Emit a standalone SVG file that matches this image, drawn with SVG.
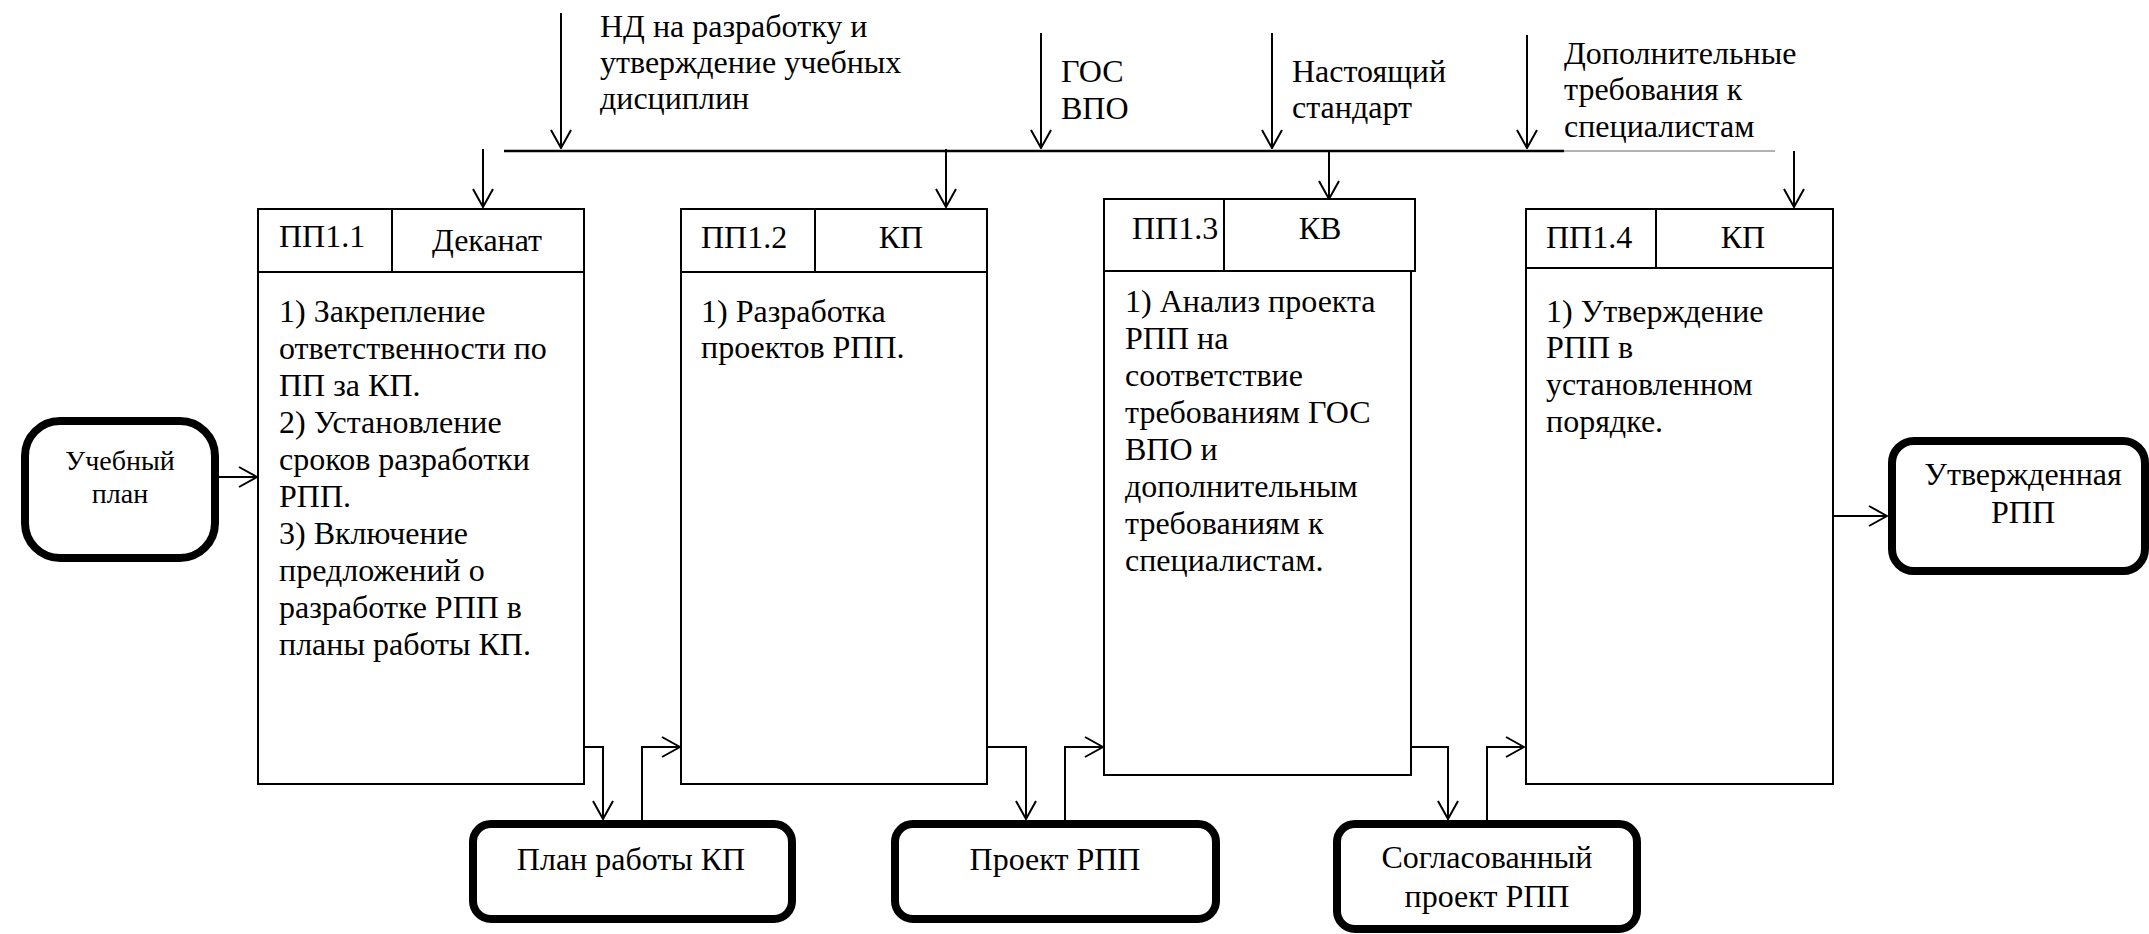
<svg xmlns="http://www.w3.org/2000/svg" width="2149" height="934" viewBox="0 0 2149 934">
<defs>
<marker id="arr" markerUnits="userSpaceOnUse" viewBox="0 0 20 22" markerWidth="20" markerHeight="22" refX="19" refY="11" orient="auto">
<path d="M1,1 L19,11 L1,21" fill="none" stroke="#000" stroke-width="2"/>
</marker>
<style>
svg text, text, tspan { font-family: "Liberation Serif", serif !important; }
</style>
</defs>
<rect width="2149" height="934" fill="#fff"/>

<g id="connectors" fill="none" stroke="#000" stroke-width="2">
<line x1="504" y1="151" x2="1564" y2="151" stroke-width="2.5"/>
<line x1="1564" y1="151" x2="1775" y2="151" stroke="#999" stroke-width="1.5"/>
<g marker-end="url(#arr)">
<line x1="561" y1="13" x2="561" y2="148"/>
<line x1="1041" y1="33" x2="1041" y2="148"/>
<line x1="1272" y1="33" x2="1272" y2="148"/>
<line x1="1527" y1="35" x2="1527" y2="148"/>
<line x1="483" y1="149" x2="483" y2="207"/>
<line x1="946" y1="149" x2="946" y2="207"/>
<line x1="1329" y1="151" x2="1329" y2="199"/>
<line x1="1794" y1="151" x2="1794" y2="207"/>
<line x1="219" y1="477" x2="257" y2="477"/>
<line x1="1833" y1="516" x2="1887" y2="516"/>
<polyline points="584,747 603,747 603,819"/>
<polyline points="642,820 642,747 680,747"/>
<polyline points="988,747 1026,747 1026,819"/>
<polyline points="1065,820 1065,747 1103,747"/>
<polyline points="1411,747 1448,747 1448,819"/>
<polyline points="1487,820 1487,747 1524,747"/>
</g>
</g>

<g id="label-nd" font-size="32">
<text style="font-family:'Liberation Serif',serif !important" x="600" y="37">НД на разработку и</text>
<text style="font-family:'Liberation Serif',serif !important" x="600" y="73">утверждение учебных</text>
<text style="font-family:'Liberation Serif',serif !important" x="600" y="109">дисциплин</text>
</g>
<g id="label-gos" font-size="32">
<text style="font-family:'Liberation Serif',serif !important" x="1061" y="82">ГОС</text>
<text style="font-family:'Liberation Serif',serif !important" x="1061" y="119">ВПО</text>
</g>
<g id="label-std" font-size="32">
<text style="font-family:'Liberation Serif',serif !important" x="1292" y="82">Настоящий</text>
<text style="font-family:'Liberation Serif',serif !important" x="1292" y="118">стандарт</text>
</g>
<g id="label-dop" font-size="32">
<text style="font-family:'Liberation Serif',serif !important" x="1564" y="64">Дополнительные</text>
<text style="font-family:'Liberation Serif',serif !important" x="1564" y="100">требования к</text>
<text style="font-family:'Liberation Serif',serif !important" x="1564" y="137">специалистам</text>
</g>

<g id="pp11" font-size="32">
<g fill="#fff" stroke="#000" stroke-width="2">
<rect x="258" y="209" width="326" height="575"/>
<line x1="258" y1="272" x2="584" y2="272"/>
<line x1="392" y1="209" x2="392" y2="272"/>
</g>
<text style="font-family:'Liberation Serif',serif !important" x="279" y="247">ПП1.1</text>
<text style="font-family:'Liberation Serif',serif !important" text-anchor="middle" x="487" y="251">Деканат</text>
<text style="font-family:'Liberation Serif',serif !important" x="279" y="322">1) Закрепление</text>
<text style="font-family:'Liberation Serif',serif !important" x="279" y="359">ответственности по</text>
<text style="font-family:'Liberation Serif',serif !important" x="279" y="396">ПП за КП.</text>
<text style="font-family:'Liberation Serif',serif !important" x="279" y="433">2) Установление</text>
<text style="font-family:'Liberation Serif',serif !important" x="279" y="470">сроков разработки</text>
<text style="font-family:'Liberation Serif',serif !important" x="279" y="507">РПП.</text>
<text style="font-family:'Liberation Serif',serif !important" x="279" y="544">3) Включение</text>
<text style="font-family:'Liberation Serif',serif !important" x="279" y="581">предложений о</text>
<text style="font-family:'Liberation Serif',serif !important" x="279" y="618">разработке РПП в</text>
<text style="font-family:'Liberation Serif',serif !important" x="279" y="655">планы работы КП.</text>
</g>

<g id="pp12" font-size="32">
<g fill="#fff" stroke="#000" stroke-width="2">
<rect x="681" y="209" width="306" height="575"/>
<line x1="681" y1="272" x2="987" y2="272"/>
<line x1="815" y1="209" x2="815" y2="272"/>
</g>
<text style="font-family:'Liberation Serif',serif !important" x="701" y="248">ПП1.2</text>
<text style="font-family:'Liberation Serif',serif !important" text-anchor="middle" x="901" y="248">КП</text>
<text style="font-family:'Liberation Serif',serif !important" x="701" y="322">1) Разработка</text>
<text style="font-family:'Liberation Serif',serif !important" x="701" y="358">проектов РПП.</text>
</g>

<g id="pp13" font-size="32">
<g fill="#fff" stroke="#000" stroke-width="2">
<rect x="1104" y="199" width="307" height="576"/>
<rect x="1104" y="199" width="311" height="72"/>
<line x1="1224" y1="199" x2="1224" y2="271"/>
</g>
<text style="font-family:'Liberation Serif',serif !important" x="1132" y="239">ПП1.3</text>
<text style="font-family:'Liberation Serif',serif !important" text-anchor="middle" x="1320" y="239">КВ</text>
<text style="font-family:'Liberation Serif',serif !important" x="1125" y="312">1) Анализ проекта</text>
<text style="font-family:'Liberation Serif',serif !important" x="1125" y="349">РПП на</text>
<text style="font-family:'Liberation Serif',serif !important" x="1125" y="386">соответствие</text>
<text style="font-family:'Liberation Serif',serif !important" x="1125" y="423">требованиям ГОС</text>
<text style="font-family:'Liberation Serif',serif !important" x="1125" y="460">ВПО и</text>
<text style="font-family:'Liberation Serif',serif !important" x="1125" y="497">дополнительным</text>
<text style="font-family:'Liberation Serif',serif !important" x="1125" y="534">требованиям к</text>
<text style="font-family:'Liberation Serif',serif !important" x="1125" y="571">специалистам.</text>
</g>

<g id="pp14" font-size="32">
<g fill="#fff" stroke="#000" stroke-width="2">
<rect x="1526" y="209" width="307" height="575"/>
<line x1="1526" y1="268" x2="1833" y2="268"/>
<line x1="1656" y1="209" x2="1656" y2="268"/>
</g>
<text style="font-family:'Liberation Serif',serif !important" x="1546" y="248">ПП1.4</text>
<text style="font-family:'Liberation Serif',serif !important" text-anchor="middle" x="1743" y="248">КП</text>
<text style="font-family:'Liberation Serif',serif !important" x="1546" y="322">1) Утверждение</text>
<text style="font-family:'Liberation Serif',serif !important" x="1546" y="358">РПП в</text>
<text style="font-family:'Liberation Serif',serif !important" x="1546" y="395">установленном</text>
<text style="font-family:'Liberation Serif',serif !important" x="1546" y="432">порядке.</text>
</g>

<g id="uchebny-plan" font-size="28">
<rect x="25" y="421" width="190" height="137" rx="35" fill="#fff" stroke="#000" stroke-width="8"/>
<text style="font-family:'Liberation Serif',serif !important" text-anchor="middle" x="120" y="470">Учебный</text>
<text style="font-family:'Liberation Serif',serif !important" text-anchor="middle" x="120" y="503">план</text>
</g>

<g id="plan-raboty" font-size="32">
<rect x="473" y="824" width="319" height="95" rx="18" fill="#fff" stroke="#000" stroke-width="8"/>
<text style="font-family:'Liberation Serif',serif !important" text-anchor="middle" x="631" y="870">План работы КП</text>
</g>

<g id="proekt-rpp" font-size="32">
<rect x="895" y="824" width="321" height="95" rx="18" fill="#fff" stroke="#000" stroke-width="8"/>
<text style="font-family:'Liberation Serif',serif !important" text-anchor="middle" x="1055" y="870">Проект РПП</text>
</g>

<g id="soglasovanny" font-size="32">
<rect x="1337" y="824" width="300" height="105" rx="18" fill="#fff" stroke="#000" stroke-width="8"/>
<text style="font-family:'Liberation Serif',serif !important" text-anchor="middle" x="1487" y="868">Согласованный</text>
<text style="font-family:'Liberation Serif',serif !important" text-anchor="middle" x="1487" y="907">проект РПП</text>
</g>

<g id="utverzhdennaya" font-size="32">
<rect x="1892" y="441" width="253" height="130" rx="22" fill="#fff" stroke="#000" stroke-width="8"/>
<text style="font-family:'Liberation Serif',serif !important" text-anchor="middle" x="2023" y="485">Утвержденная</text>
<text style="font-family:'Liberation Serif',serif !important" text-anchor="middle" x="2023" y="523">РПП</text>
</g>
</svg>
